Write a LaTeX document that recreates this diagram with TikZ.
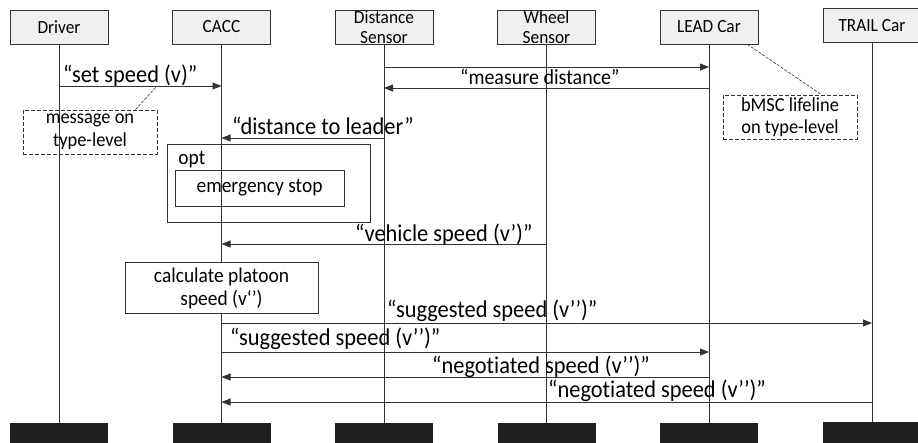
\documentclass[tikz,border=0pt]{standalone}
\usepackage{fontspec}
\setmainfont{Carlito}[FakeStretch=0.93,Ligatures={NoCommon,NoRequired,NoContextual}]
\usepackage{tikz}
\usepackage{xcolor}
\usetikzlibrary{arrows.meta}

\begin{document}
\begin{tikzpicture}[x=1pt,y=-1pt,
    actor/.style={draw=black!80,fill=black!6,minimum width=98pt,minimum height=34pt,inner sep=0pt,align=center,font=\fontsize{18.6}{20.5}\selectfont},
    lifeend/.style={fill=black!88,minimum width=98pt,minimum height=24pt,inner sep=0pt},
    life/.style={draw=black!80,line width=0.8pt},
    msg/.style={draw=black!80,line width=0.8pt,-{Triangle[length=9pt,width=7pt]}},
    msgtext/.style={inner sep=0pt,anchor=base west,font=\fontsize{24.1}{26}\selectfont},
    smalltext/.style={inner sep=0pt,font=\fontsize{21.5}{23}\selectfont},
    action/.style={draw=black!80,fill=white,line width=0.8pt,inner sep=0pt,align=center,font=\fontsize{20.9}{23}\selectfont},
    note/.style={draw=black!80,dash pattern=on 4pt off 2pt,line width=0.8pt,inner sep=0pt,align=center,font=\fontsize{19.8}{22.5}\selectfont},
    notelink/.style={draw=black!80,dash pattern=on 3pt off 1.5pt,line width=0.6pt}]
                \clip (0,0) rectangle (918,442);
                \useasboundingbox (0,0) rectangle (918,442);
                % Draw lifeline heads
                \node[actor] (driver) at (59,27) {Driver};
                \node[actor] (cacc) at (221.5,27) {CACC};
                \node[actor] (dist) at (384,27) {Distance\\Sensor};
                \node[actor] (wheel) at (546.5,27) {Wheel\\Sensor};
                \node[actor] (lead) at (709,27) {LEAD Car};
                \node[actor] (trail) at (872,25.5) {TRAIL Car};
                % lifeline ends
                \node[lifeend] (driverEnd) at (59,435) {};
                \node[lifeend] (caccEnd) at (221.5,435) {};
                \node[lifeend] (distEnd) at (384,435) {};
                \node[lifeend] (wheelEnd) at (546.5,435) {};
                \node[lifeend] (leadEnd) at (709,435) {};
                \node[lifeend] (trailEnd) at (872,434) {};
                % lifelines
                \draw[life] (driver) -- (driverEnd);
                \draw[life] (cacc) -- (caccEnd);
                \draw[life] (dist) -- (distEnd);
                \draw[life] (wheel) -- (wheelEnd);
                \draw[life] (lead) -- (leadEnd);
                \draw[life] (trail) -- (trailEnd);

                % set speed
                \draw[msg] (driver |- 0,86) -- (cacc |- 0,86);
                \node[msgtext] (setSpeed) at (63,82) {“set speed (v)”};
                % measure distance
                \draw[msg] (dist |- 0,67) -- (lead |- 0,67);
                \draw[msg] (lead |- 0,88) -- (dist |- 0,88);
                \node[smalltext,anchor=base west] (measure) at (460,84) {“measure distance”};
                % distance to leader
                \draw[msg] (dist |- 0,138) -- (cacc |- 0,138);
                \node[msgtext] (toLeader) at (232,134) {“distance to leader”};

                % opt fragment
                \node[draw=black!80,line width=0.8pt,minimum width=203pt,minimum height=78pt] (opt) at (268.5,183) {};
                \node[action,draw=none,fill=none,anchor=base west] (optLabel) at (178,164) {opt};
                \node[action,fill=none,minimum width=169pt,minimum height=36pt] (stop) at (259.5,188) {emergency stop};

                % vehicle speed
                \draw[msg] (wheel |- 0,244) -- (cacc |- 0,244);
                \node[msgtext] (vehSpeed) at (355,241) {“vehicle speed (v’)”};

                % calculate platoon speed
                \node[action,minimum width=193pt,minimum height=51pt] (calc) at (221.5,288) {calculate platoon\\speed (v‘’)};

                % suggested speed
                \draw[msg] (cacc |- 0,323) -- (trail |- 0,323);
                \node[msgtext] (sugTrail) at (387,317) {“suggested speed (v’’)”};
                \draw[msg] (cacc |- 0,352) -- (lead |- 0,352);
                \node[msgtext] (sugLead) at (230,345) {“suggested speed (v’’)”};
                % negotiated speed
                \draw[msg] (lead |- 0,377) -- (cacc |- 0,377);
                \node[msgtext] (negLead) at (432,373) {“negotiated speed (v’’)”};
                \draw[msg] (trail |- 0,402) -- (cacc |- 0,402);
                \node[msgtext] (negTrail) at (548,397) {“negotiated speed (v’’)”};

                % notes
                \node[note,minimum width=134pt,minimum height=44pt] (typeMsg) at (90,132) {message on\\type-level};
                \coordinate (setSpeedPt) at (157,86);
                \draw[notelink] ([xshift=-22pt]typeMsg.north east) -- (setSpeedPt);
                \node[note,minimum width=134pt,minimum height=44pt] (typeLife) at (790,117) {bMSC lifeline\\on type-level};
                \draw[notelink] ([xshift=-11pt]lead.south east) -- ([xshift=-36pt]typeLife.north east);
            \end{tikzpicture}
\end{document}
